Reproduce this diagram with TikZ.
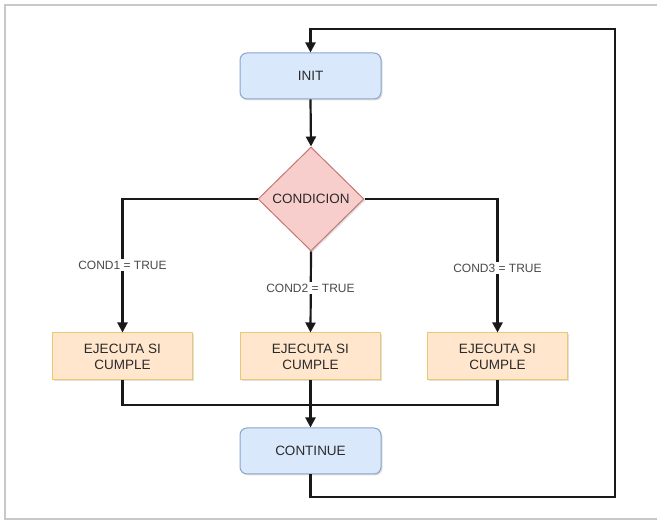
\documentclass[tikz,border=0pt]{standalone}
\usepackage{fontspec}
\setmainfont{Liberation Sans}
\usetikzlibrary{shapes.geometric,arrows.meta,shadows}
\definecolor{bluefill}{HTML}{DAE8FC}
\definecolor{bluedraw}{HTML}{6C8EBF}
\definecolor{orangefill}{HTML}{FFE6CC}
\definecolor{orangedraw}{HTML}{D79B00}
\definecolor{redfill}{HTML}{F8CECC}
\definecolor{reddraw}{HTML}{B85450}
\definecolor{txt}{HTML}{2A2A2A}
\definecolor{framegray}{HTML}{C8C8C8}
\tikzset{
  x=1pt, y=-1pt,
  boxshadow/.style={drop shadow={shadow xshift=1.5pt, shadow yshift=-1.5pt, fill=black, opacity=0.12}},
  bluebox/.style={rectangle, rounded corners=7pt, fill=bluefill, draw=bluedraw!80, line width=1pt,
    minimum width=141pt, minimum height=46pt, text=txt, font=\fontsize{13.5}{16}\selectfont, boxshadow},
  orangebox/.style={rectangle, fill=orangefill, draw=orangedraw!55, line width=1pt,
    minimum width=140pt, minimum height=47pt, text=txt, align=center,
    font=\fontsize{13.5}{16}\selectfont, boxshadow},
  decision/.style={diamond, aspect=1, fill=redfill, draw=reddraw!80, line width=1pt,
    minimum width=106pt, minimum height=104pt, inner sep=0pt, text=txt,
    font=\fontsize{13.5}{16}\selectfont, boxshadow},
  flow/.style={draw=black!90, line width=2.2pt},
  flowarrow/.style={flow, -{Triangle[length=10pt, width=10pt]}},
  condlabel/.style={fill=white, text=txt!85, inner sep=1.5pt, font=\fontsize{12}{14}\selectfont},
}
\begin{document}
\begin{tikzpicture}
\useasboundingbox (0,0) rectangle (657,521);
\fill[white] (0,0) rectangle (657,521);
% outer frame
\draw[framegray, line width=1.5pt] (657,5) -- (5,5) -- (5,519) -- (657,519);

% nodes
\node[bluebox] (init) at (310.5,76) {INIT};
\node[decision] (cond) at (311,199) {CONDICION};
\node[orangebox] (e1) at (122.5,356.5) {EJECUTA SI\\CUMPLE};
\node[orangebox] (e2) at (310.5,356.5) {EJECUTA SI\\CUMPLE};
\node[orangebox] (e3) at (497.5,356.5) {EJECUTA SI\\CUMPLE};
\node[bluebox] (cont) at (310.5,451) {CONTINUE};

% helper corners
\coordinate (l1) at (e1.north |- cond.west);
\coordinate (r1) at (e3.north |- cond.east);
\coordinate (mjoin) at (310.5,405);
\coordinate (bl) at (e1.south |- mjoin);
\coordinate (br) at (e3.south |- mjoin);
\coordinate (lb) at (310.5,497);
\coordinate (lr1) at (615,497);
\coordinate (lr2) at (615,29);
\coordinate (lt) at (310.5,29);

% connectors
\draw[flowarrow] (init.south) -- (cond.north);
\draw[flowarrow] (cond.west) -- (l1) -- (e1.north);
\draw[flowarrow] (cond.east) -- (r1) -- (e3.north);
\draw[flowarrow] (cond.south) -- (e2.north);
\draw[flow] (e1.south) -- (bl) -- (br) -- (e3.south);
\draw[flowarrow] (e2.south) -- (cont.north);
\draw[flowarrow] (cont.south) -- (lb) -- (lr1) -- (lr2) -- (lt) -- (init.north);

% branch labels
\node[condlabel] (c1) at (122.5,265) {COND1 = TRUE};
\node[condlabel] (c2) at (310.5,288) {COND2 = TRUE};
\node[condlabel] (c3) at (497.5,268) {COND3 = TRUE};
\end{tikzpicture}
\end{document}
